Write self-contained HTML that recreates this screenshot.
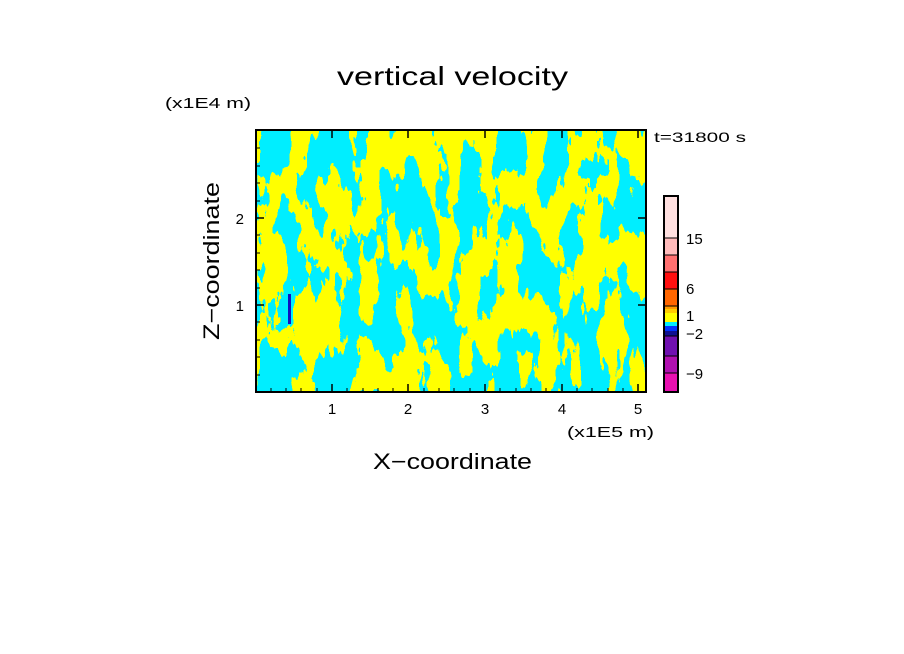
<!DOCTYPE html>
<html><head><meta charset="utf-8"><style>
body{margin:0;background:#fff;}
svg{display:block;}
text{font-family:"Liberation Sans",sans-serif;fill:#000;}
</style></head><body>
<svg width="904" height="654" viewBox="0 0 904 654" xmlns="http://www.w3.org/2000/svg">
<defs>
<filter id="f" x="0" y="0" width="100%" height="100%" color-interpolation-filters="sRGB">
<feTurbulence type="fractalNoise" baseFrequency="0.05 0.017" numOctaves="4" seed="7" result="n"/>
<feColorMatrix in="n" type="matrix" values="0 0 0 0 0  0 0 0 0 0  0 0 0 0 0  1 0 0 0 0" result="a"/>
<feComponentTransfer in="a" result="t"><feFuncA type="discrete" tableValues="0 1"/></feComponentTransfer>
<feFlood flood-color="#ffff00" result="y"/>
<feComposite in="y" in2="t" operator="in"/>
</filter>
</defs>
<text x="337" y="85" font-size="26" textLength="231" lengthAdjust="spacingAndGlyphs">vertical velocity</text>
<text x="165" y="108" font-size="15" textLength="86" lengthAdjust="spacingAndGlyphs">(x1E4 m)</text>
<text x="654" y="142" font-size="14" textLength="92" lengthAdjust="spacingAndGlyphs">t=31800 s</text>
<rect x="256" y="130" width="390" height="262" fill="#00eeff"/>
<rect x="256" y="130" width="390" height="262" fill="#000" filter="url(#f)"/>
<rect x="288" y="294" width="3" height="30" fill="#1010c0"/>
<g stroke="#000" stroke-width="1.5">
<rect x="256" y="130" width="390" height="262" fill="none" stroke-width="2"/>
<path d="M332 392v-8M408 392v-8M485 392v-8M562 392v-8M638 392v-8M332 130v8M408 130v8M485 130v8M562 130v8M638 130v8M256 305h8M256 218h8M646 305h-8M646 218h-8"/>
<path d="M271 392v-4M286 392v-4M301 392v-4M317 392v-4M347 392v-4M363 392v-4M378 392v-4M393 392v-4M424 392v-4M439 392v-4M454 392v-4M470 392v-4M500 392v-4M516 392v-4M531 392v-4M546 392v-4M577 392v-4M592 392v-4M608 392v-4M623 392v-4M256 375h4M256 357h4M256 340h4M256 322h4M256 288h4M256 270h4M256 253h4M256 235h4M256 201h4M256 183h4M256 166h4M256 148h4" stroke-width="1"/>
</g>
<g font-size="15" text-anchor="middle">
<text x="332" y="414">1</text><text x="408" y="414">2</text><text x="485" y="414">3</text><text x="562" y="414">4</text><text x="638" y="414">5</text>
</g>
<text x="244" y="311" font-size="15" text-anchor="end">1</text>
<text x="244" y="224" font-size="15" text-anchor="end">2</text>
<text x="567" y="437" font-size="15" textLength="87" lengthAdjust="spacingAndGlyphs">(x1E5 m)</text>
<text x="373" y="469" font-size="22" textLength="159" lengthAdjust="spacingAndGlyphs">X−coordinate</text>
<text transform="translate(219 340) rotate(-90)" font-size="22" textLength="158" lengthAdjust="spacingAndGlyphs">Z−coordinate</text>
<g>
<rect x="664" y="196" width="14" height="42" fill="#ffe0e0"/>
<rect x="664" y="238" width="14" height="17" fill="#ffbbbb"/>
<rect x="664" y="255" width="14" height="17" fill="#ff7070"/>
<rect x="664" y="272" width="14" height="17" fill="#ff1010"/>
<rect x="664" y="289" width="14" height="17" fill="#ff6600"/>
<rect x="664" y="306" width="14" height="3" fill="#ff9900"/>
<rect x="664" y="309" width="14" height="4" fill="#ffcc00"/>
<rect x="664" y="313" width="14" height="9" fill="#ffff00"/>
<rect x="664" y="322" width="14" height="4" fill="#00eeff"/>
<rect x="664" y="326" width="14" height="5" fill="#0033ff"/>
<rect x="664" y="331" width="14" height="5" fill="#101090"/>
<rect x="664" y="336" width="14" height="20" fill="#7010b0"/>
<rect x="664" y="356" width="14" height="17" fill="#b010b0"/>
<rect x="664" y="373" width="14" height="19" fill="#e810b0"/>
<rect x="664" y="196" width="14" height="196" fill="none" stroke="#000" stroke-width="2"/>
<path d="M664 238h14M664 255h14M664 272h14M664 289h14M664 306h14M664 336h14M664 356h14M664 373h14" stroke="#000" stroke-width="1"/>
</g>
<g font-size="15">
<text x="686" y="244">15</text><text x="686" y="294">6</text><text x="686" y="321">1</text><text x="686" y="339">−2</text><text x="686" y="379">−9</text>
</g>
</svg>
</body></html>
